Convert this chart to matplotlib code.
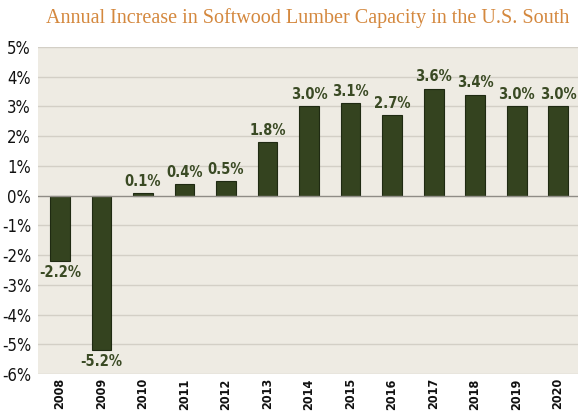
import matplotlib
matplotlib.use("Agg")
import matplotlib.pyplot as plt
from matplotlib import font_manager

years = ["2008", "2009", "2010", "2011", "2012", "2013", "2014", "2015", "2016", "2017", "2018", "2019", "2020"]
values = [-2.2, -5.2, 0.1, 0.4, 0.5, 1.8, 3.0, 3.1, 2.7, 3.6, 3.4, 3.0, 3.0]
yticks = [5, 4, 3, 2, 1, 0, -1, -2, -3, -4, -5, -6]
title = "Annual Increase in Softwood Lumber Capacity in the U.S. South"

names = {f.name for f in font_manager.fontManager.ttflist}
narrow = "Liberation Sans Narrow" if "Liberation Sans Narrow" in names else "DejaVu Sans"
stretch = "normal" if narrow == "Liberation Sans Narrow" else "condensed"

fig = plt.figure(figsize=(5.78, 4.11), dpi=100)
ax = fig.add_axes([0.0657, 0.09, 0.9343, 0.7956])
ax.set_facecolor("#EEEBE3")
fig.patch.set_facecolor("white")

x = list(range(len(years)))
ax.bar(x, values, width=0.48, color="#34431F", edgecolor="#1F2A12", linewidth=0.8, zorder=3)

ax.set_xlim(-0.53, 12.48)
ax.set_ylim(-6, 5)
ax.set_yticks(yticks)
ax.set_yticklabels([f"{t}%" for t in yticks], fontfamily=narrow, fontsize=12, fontstretch=stretch, color="#111111")
ax.set_xticks(x)
ax.set_xticklabels(years, rotation=90, fontfamily=narrow, fontsize=9, fontweight="bold", fontstretch=stretch, color="#111111")
ax.tick_params(axis="x", length=0, pad=3)
ax.tick_params(axis="y", length=0, pad=5)
for t in yticks:
    ax.axhline(t, color="#D3CFC6" if t != 0 else "#8F8C86", linewidth=1.0, zorder=1 if t != 0 else 4)
for s in ax.spines.values():
    s.set_visible(False)

for xi, v in zip(x, values):
    if v >= 0:
        ax.annotate(f"{v:.1f}%", (xi, v), xytext=(0, 3), textcoords="offset points", ha="center", va="bottom",
                    fontfamily=narrow, fontsize=10.5, fontweight="bold", fontstretch=stretch, color="#3A4A24")
    else:
        ax.annotate(f"{v:.1f}%", (xi, v), xytext=(0, -3), textcoords="offset points", ha="center", va="top",
                    fontfamily=narrow, fontsize=10.5, fontweight="bold", fontstretch=stretch, color="#3A4A24")

fig.text(0.532, 0.955, title, ha="center", va="center", fontfamily="Liberation Serif", fontsize=14.5, color="#D4883E")

fig.savefig("out.png", dpi=100)
